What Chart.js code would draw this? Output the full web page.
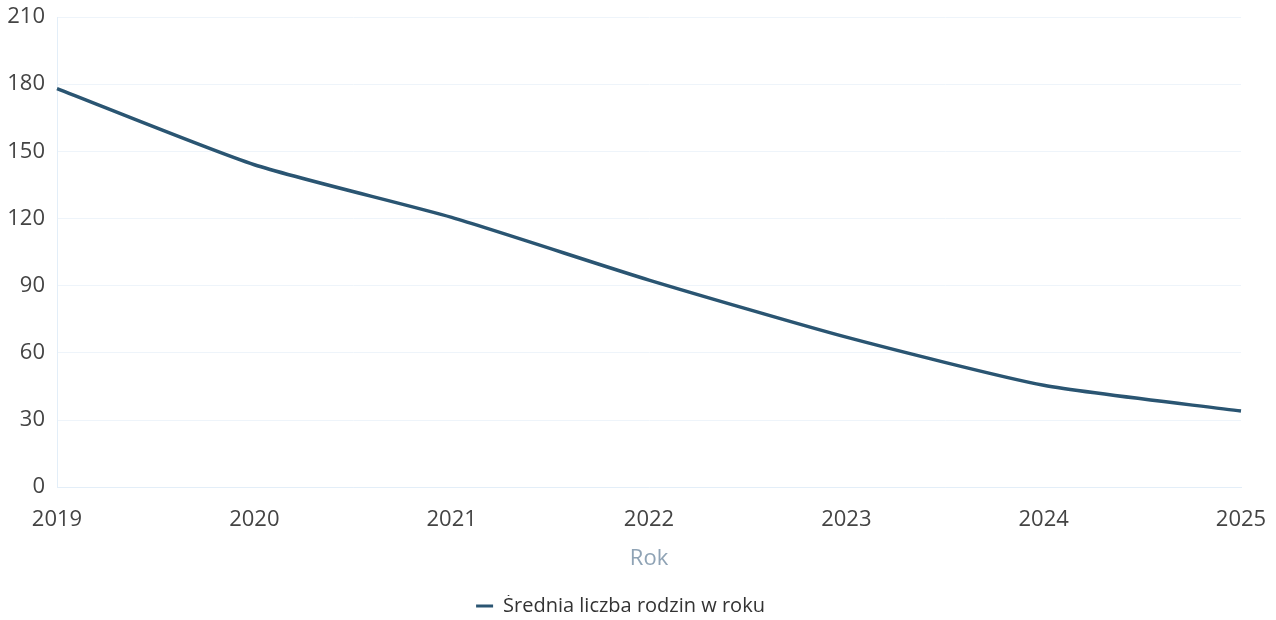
<!DOCTYPE html>
<html><head><meta charset="utf-8">
<script src="https://cdn.jsdelivr.net/npm/chart.js@4/dist/chart.umd.min.js"></script>
<style>html,body{margin:0;padding:0;background:#fff;}#wrap{width:1276px;height:620px;}</style>
</head><body><div id="wrap"><canvas id="c" width="1276" height="620"></canvas></div>
<script>
const years = ['2019','2020','2021','2022','2023','2024','2025'];
const avgFamilies = [178, 144, 120.5, 92.5, 67, 45.5, 34];
const seriesLabel = 'Średnia liczba rodzin w roku';
const xTitle = 'Rok';
const yMin = 0, yMax = 210, yStep = 30;

new Chart(document.getElementById('c'), {
  type: 'line',
  data: { labels: years, datasets: [{
    label: seriesLabel, data: avgFamilies,
    borderColor: '#2a5572', backgroundColor: '#2a5572', borderWidth: 3.5,
    pointRadius: 0, tension: 0.2, fill: false
  }]},
  options: {
    responsive: false, animation: false,
    layout: { padding: { left: 0, right: 35, top: 17, bottom: -6 } },
    plugins: {
      legend: { position: 'bottom', labels: { font: { family: 'Open Sans', size: 20 }, color: '#333',
        boxWidth: 17, boxHeight: 3, padding: 1,
        generateLabels: (ch) => [{ text: seriesLabel, fillStyle: '#2a5572', strokeStyle: '#2a5572', lineWidth: 0, datasetIndex: 0, fontColor: '#333' }] } },
      tooltip: { enabled: false }
    },
    scales: {
      x: { offset: false,
        afterFit: (s) => { s.paddingLeft = 0; s.paddingRight = 0; },
        grid: { display: false, drawTicks: false },
        border: { display: true, color: '#e3eef8' },
        ticks: { font: { family: 'Open Sans', size: 22 }, color: '#444', padding: 19, maxRotation: 0 },
        title: { display: true, text: xTitle, font: { family: 'Open Sans', size: 22 }, color: '#8fa3b5', padding: { top: -6, bottom: 23 } } },
      y: { min: yMin, max: yMax,
        afterFit: (s) => { s.width = 57; s.paddingTop = 0; s.paddingBottom = 0; },
        grid: { color: '#eef4fa', drawTicks: false, lineWidth: 1 },
        border: { display: true, color: '#e3eef8' },
        ticks: { stepSize: yStep, font: { family: 'Open Sans', size: 22 }, color: '#444', padding: 12 } }
    }
  }
});
</script></body></html>
